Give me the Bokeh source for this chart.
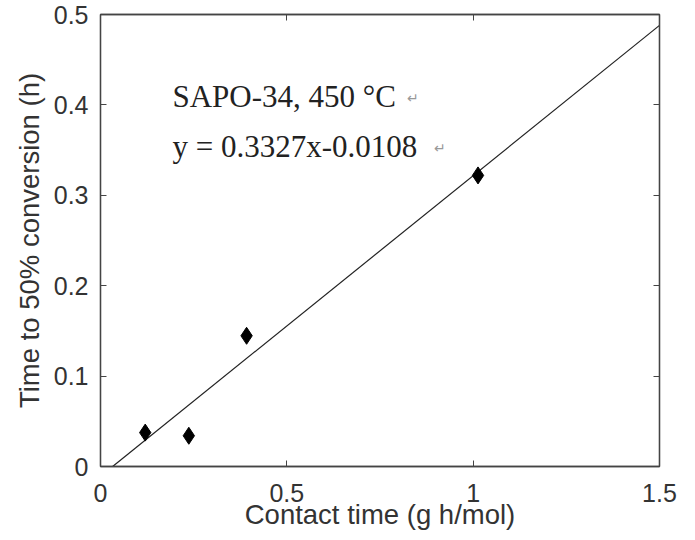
from bokeh.plotting import figure
from bokeh.models import LinearAxis, FixedTicker, Range1d, Label
from bokeh.embed import file_html
from bokeh.resources import INLINE

# data
contact_time = [0.12, 0.237, 0.392, 1.013]
time_to_50 = [0.0375, 0.034, 0.1446, 0.322]
fit_x = [0.0325, 1.5]
fit_y = [0.0, 0.488]

x_ticks = [0, 0.5, 1, 1.5]
x_tick_labels = ["0", "0.5", "1", "1.5"]
y_ticks = [0, 0.1, 0.2, 0.3, 0.4, 0.5]
y_tick_labels = ["0", "0.1", "0.2", "0.3", "0.4", "0.5"]

title_text = "SAPO-34, 450 \u00b0C"
eq_text = "y = 0.3327x-0.0108"

AX_FONT = "Liberation Sans"
ANN_FONT = "Liberation Serif"

p = figure(width=679, height=532, output_backend="svg", toolbar_location=None,
           x_range=Range1d(0, 1.5), y_range=Range1d(0, 0.5),
           min_border_left=100, min_border_right=20, min_border_top=14, min_border_bottom=64)
p.grid.visible = False
p.outline_line_color = "#444444"
p.outline_line_width = 1.3
p.background_fill_color = "white"
p.border_fill_color = "white"

def style_axis(ax, ticks, labels, show_labels=True):
    ax.ticker = FixedTicker(ticks=ticks)
    ax.major_label_overrides = {t: l for t, l in zip(ticks, labels)}
    ax.major_tick_in = 6
    ax.major_tick_out = 0
    ax.minor_tick_in = 0
    ax.minor_tick_out = 0
    ax.major_tick_line_color = "#444444"
    ax.axis_line_color = "#444444"
    ax.axis_line_width = 1.3
    ax.major_label_text_font = AX_FONT
    ax.major_label_text_color = "#333333" if show_labels else None
    ax.major_label_text_font_size = "25px" if show_labels else "0px"
    ax.axis_label_text_font = AX_FONT
    ax.axis_label_text_font_style = "normal"
    ax.axis_label_text_color = "#333333"
    ax.axis_label_text_font_size = "27.5px"

xa = p.xaxis[0]
style_axis(xa, x_ticks, x_tick_labels)
xa.axis_label = "Contact time (g h/mol)"
xa.major_label_standoff = 17
xa.axis_label_standoff = -6

ya = p.yaxis[0]
style_axis(ya, y_ticks, y_tick_labels)
ya.axis_label = "Time to 50% conversion (h)"
ya.major_label_standoff = 12
ya.axis_label_standoff = 6

top = LinearAxis()
style_axis(top, x_ticks, x_tick_labels, show_labels=False)
top.major_label_standoff = 0
p.add_layout(top, "above")

right = LinearAxis()
style_axis(right, y_ticks, y_tick_labels, show_labels=False)
right.major_label_standoff = 0
p.add_layout(right, "right")

p.line(fit_x, fit_y, line_color="#222222", line_width=1.2)
p.scatter(contact_time, time_to_50, marker="diamond", size=17,
          fill_color="black", line_color="black")

p.add_layout(Label(x=0.193, y=0.4095, text=title_text, text_font=ANN_FONT,
                   text_font_size="31px", text_color="#222222", text_baseline="middle"))
p.add_layout(Label(x=0.822, y=0.407, text="\u21b5", text_font=ANN_FONT,
                   text_font_size="14px", text_color="#999999", text_baseline="middle"))
p.add_layout(Label(x=0.193, y=0.354, text=eq_text, text_font=ANN_FONT,
                   text_font_size="31px", text_color="#222222", text_baseline="middle"))
p.add_layout(Label(x=0.895, y=0.352, text="\u21b5", text_font=ANN_FONT,
                   text_font_size="14px", text_color="#999999", text_baseline="middle"))

open("out.html", "w").write(file_html(p, INLINE))
